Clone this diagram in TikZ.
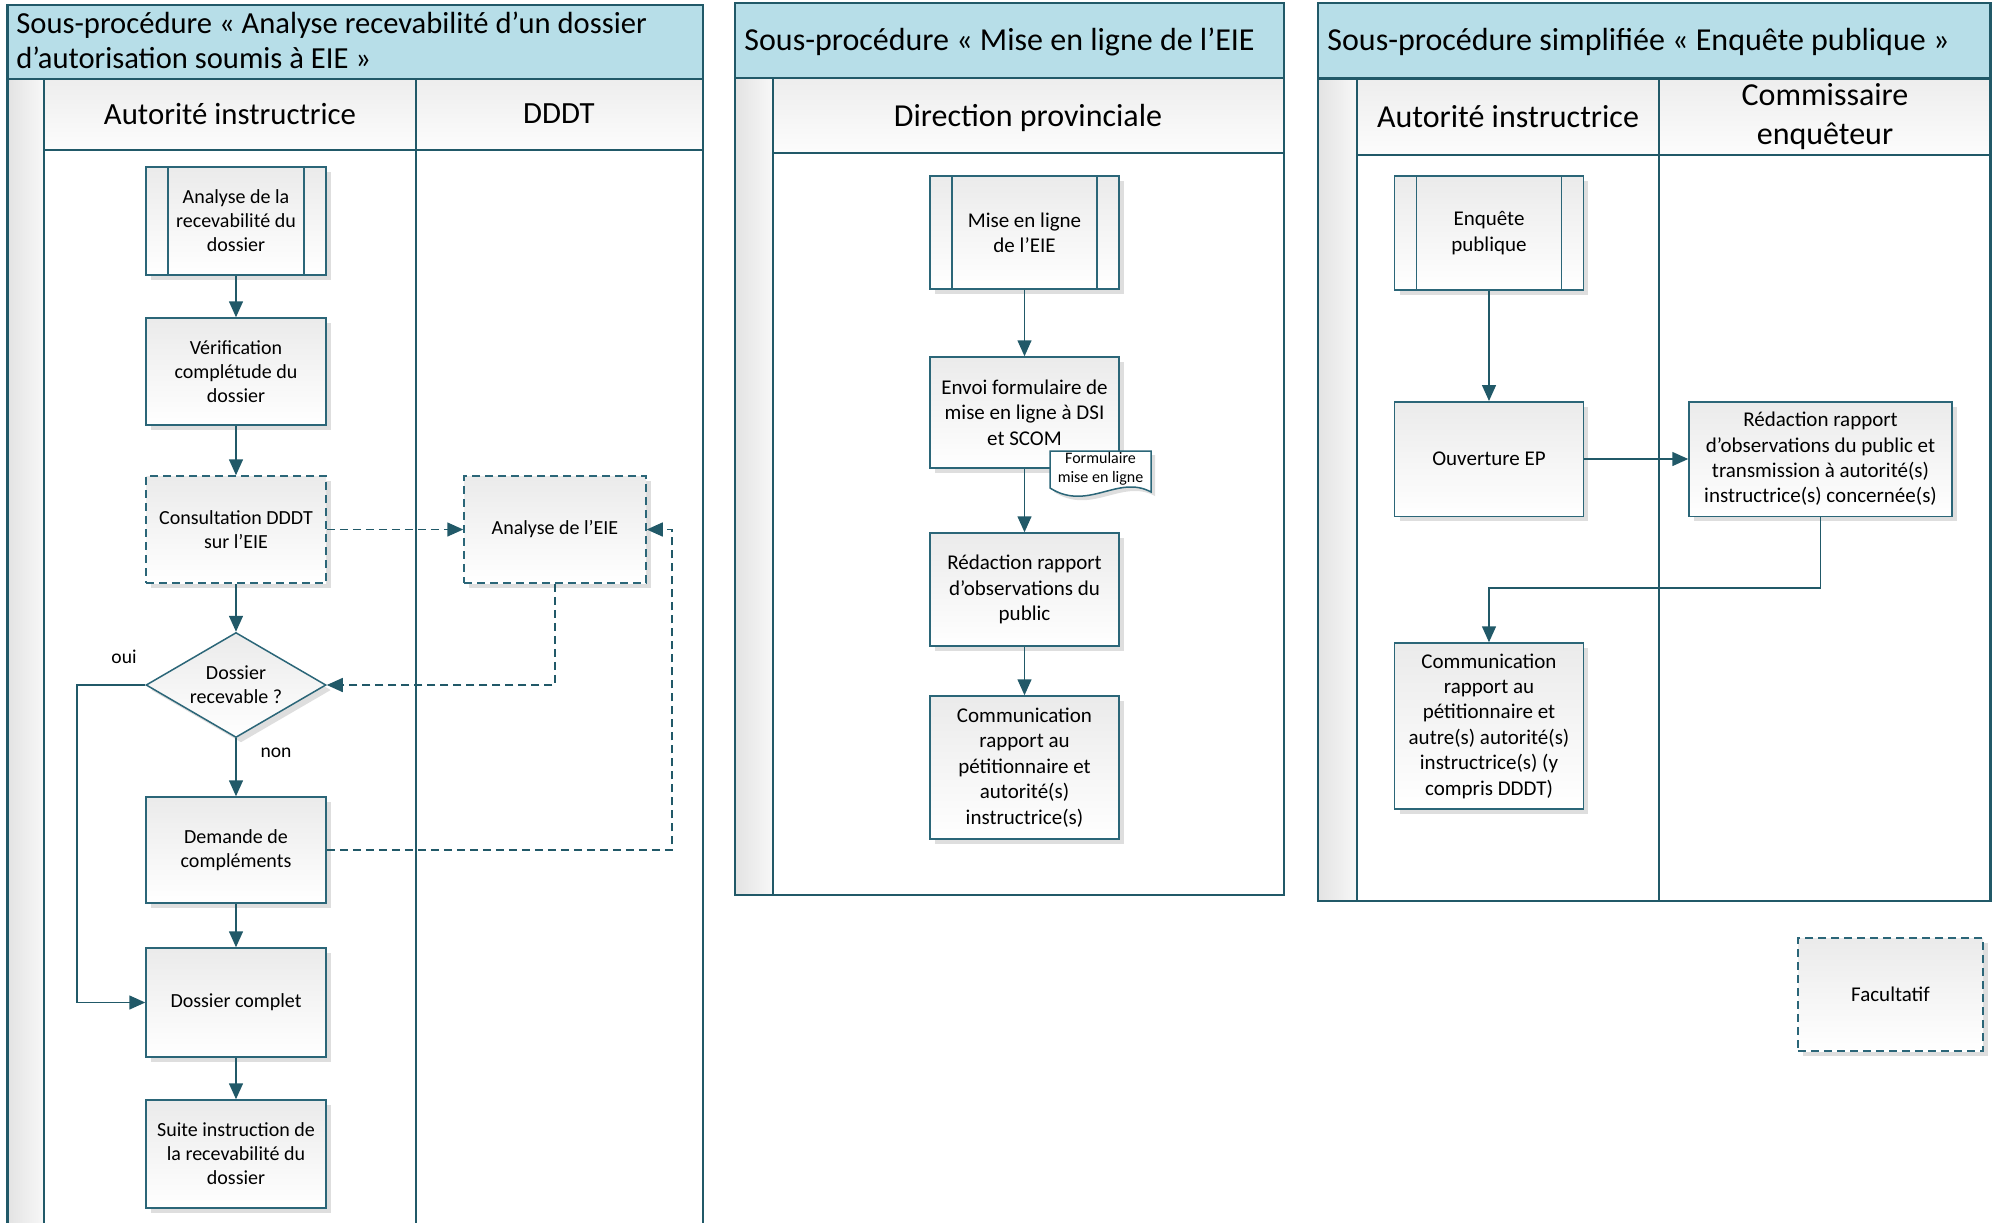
\documentclass[tikz,border=0pt]{standalone}
\usepackage{fontspec}
\setmainfont{Carlito}
\usetikzlibrary{arrows.meta,shapes.geometric,shadows}
\definecolor{tealdk}{HTML}{215968}
\definecolor{bord}{HTML}{2B6678}
\definecolor{titlebg}{HTML}{B7DEE8}
\begin{document}
\begin{tikzpicture}[x=0.5pt,y=-0.5pt,
  panel/.style={draw=tealdk, line width=1.3pt},
  lane/.style={draw=tealdk, line width=1pt},
  titletxt/.style={font=\fontsize{16pt}{17.5pt}\selectfont, anchor=west, align=left, inner sep=0pt},
  hdr/.style={font=\fontsize{16pt}{19.5pt}\selectfont, align=center, inner sep=0pt},
  box/.style={draw=bord, line width=0.75pt, top color=black!8, bottom color=white,
    drop shadow={shadow xshift=2.5pt, shadow yshift=-2.5pt, fill=black!13, opacity=1},
    align=center, inner sep=2pt},
  lbox/.style={box, font=\fontsize{10pt}{12pt}\selectfont, minimum width=90pt},
  mbox/.style={box, font=\fontsize{10.5pt}{12.7pt}\selectfont, minimum width=94.3pt},
  opt/.style={dash pattern=on 4pt off 2.5pt},
  sub/.style={path picture={
      \draw[bord, line width=0.75pt] ([xshift=11pt]path picture bounding box.north west) -- ([xshift=11pt]path picture bounding box.south west);
      \draw[bord, line width=0.75pt] ([xshift=-11pt]path picture bounding box.north east) -- ([xshift=-11pt]path picture bounding box.south east);}},
  arr/.style={draw=tealdk, line width=0.75pt, -{Triangle[length=8pt,width=7pt]}},
  lbl/.style={font=\fontsize{9.8pt}{12pt}\selectfont, inner sep=0pt}
]
\useasboundingbox (0,0) rectangle (1993,1222);

% ---------- Left panel ----------
\fill[titlebg] (7.6,5) rectangle (703,79);
\shade[left color=black!11, right color=black!3] (7.6,79) rectangle (44,1230);
\shade[top color=black!7, bottom color=black!1] (44,79) rectangle (703,150);
\draw[panel] (7.6,1230) -- (7.6,5) -- (703,5) -- (703,1230);
\draw[panel] (7.6,79) -- (703,79);
\draw[lane] (44,79) -- (44,1230);
\draw[lane] (44,150) -- (703,150);
\draw[lane] (415.6,79) -- (415.6,1230);
\node[titletxt, font=\fontsize{15.3pt}{17.5pt}\selectfont] (t1) at (16,40.5) {Sous-procédure « Analyse recevabilité d’un dossier\\d’autorisation soumis à EIE »};
\node[hdr, font=\fontsize{15.4pt}{19pt}\selectfont] (h1) at (230,114) {Autorité instructrice};
\node[hdr, font=\fontsize{15.4pt}{19pt}\selectfont] (h2) at (559,114) {DDDT};

% ---------- Middle panel ----------
\fill[titlebg] (735,3) rectangle (1284,78);
\shade[left color=black!11, right color=black!3] (735,78) rectangle (772.5,895);
\shade[top color=black!7, bottom color=black!1] (772.5,78) rectangle (1284,153);
\draw[panel] (735,3) rectangle (1284,895);
\draw[panel] (735,78) -- (1284,78);
\draw[lane] (772.5,78) -- (772.5,895);
\draw[lane] (772.5,153) -- (1284,153);
\node[titletxt] (t2) at (744,42) {Sous-procédure « Mise en ligne de l’EIE};
\node[hdr] (h3) at (1028,117.5) {Direction provinciale};

% ---------- Right panel ----------
\fill[titlebg] (1318,3) rectangle (1990.5,78.5);
\shade[left color=black!11, right color=black!3] (1318,78.5) rectangle (1357,901);
\shade[top color=black!7, bottom color=black!1] (1357,78.5) rectangle (1990.5,155);
\draw[panel] (1318,3) rectangle (1990.5,901);
\draw[panel] (1318,78.5) -- (1990.5,78.5);
\draw[lane] (1357,78.5) -- (1357,901);
\draw[lane] (1357,155) -- (1990.5,155);
\draw[lane] (1659,78.5) -- (1659,901);
\node[titletxt] (t3) at (1327,42) {Sous-procédure simplifiée « Enquête publique »};
\node[hdr] (h4) at (1508,116.5) {Autorité instructrice};
\node[hdr] (h5) at (1825,117) {Commissaire\\enquêteur};

% ---------- Left nodes ----------
\node[lbox, sub, minimum height=54pt] (a1) at (236,221) {Analyse de la\\recevabilité du\\dossier};
\node[lbox, minimum height=53.5pt] (a2) at (236,371.5) {Vérification\\complétude du\\dossier};
\node[lbox, opt, minimum height=53.5pt] (a3) at (236,529.5) {Consultation DDDT\\sur l’EIE};
\node[lbox, opt, minimum width=91pt, minimum height=53.5pt] (d1) at (555,529.5) {Analyse de l’EIE};
\node[diamond, draw=bord, line width=0.75pt, top color=black!8, bottom color=white,
  drop shadow={shadow xshift=2.5pt, shadow yshift=-2.5pt, fill=black!13, opacity=1},
  aspect=1.714, minimum width=90pt, minimum height=52.5pt, inner sep=0pt, align=center,
  font=\fontsize{10pt}{12pt}\selectfont] (dia) at (236,685) {Dossier\\recevable ?};
\node[lbox, minimum height=53pt] (a4) at (236,850) {Demande de\\compléments};
\node[lbox, minimum height=54.5pt] (a5) at (236,1002.5) {Dossier complet};
\node[lbox, minimum height=54pt] (a6) at (236,1154) {Suite instruction de\\la recevabilité du\\dossier};
\node[lbl] (oui) at (124,657) {oui};
\node[lbl] (non) at (276,753) {non};

\draw[arr] (a1) -- (a2);
\draw[arr] (a2) -- (a3);
\draw[arr] (a3) -- (dia);
\draw[arr] (dia) -- (a4);
\draw[arr] (a4) -- (a5);
\draw[arr] (a5) -- (a6);
\coordinate (lp) at (77,1002.5);
\draw[arr] (dia.west) -| (lp) -- (a5.west);
\draw[arr, opt] (a3.east) -- (d1.west);
\draw[arr, opt] (d1.south) |- (dia.east);
\coordinate (rx) at (672,700);
\draw[arr, opt] (a4.east) -| (rx) |- (d1.east);

% ---------- Middle nodes ----------
\node[mbox, sub, minimum height=56.5pt] (m1) at (1024.5,232.5) {Mise en ligne\\de l’EIE};
\node[mbox, minimum height=55.5pt] (m2) at (1024.5,412.5) {Envoi formulaire de\\mise en ligne à DSI\\et SCOM};
\node[mbox, minimum height=56.5pt] (m3) at (1024.5,589.5) {Rédaction rapport\\d’observations du\\public};
\node[mbox, minimum height=71.5pt] (m4) at (1024.5,767.5) {Communication\\rapport au\\pétitionnaire et\\autorité(s)\\instructrice(s)};
\path[draw=bord, line width=0.75pt, fill=white,
  drop shadow={shadow xshift=2pt, shadow yshift=-2pt, fill=black!13, opacity=1}]
  (1050,451) -- (1151,451) -- (1151,492) .. controls (1118,474) and (1088,512) .. (1050,488) -- cycle;
\node[font=\fontsize{8pt}{9.5pt}\selectfont, align=center, inner sep=0pt] (doc) at (1100.5,468.5) {Formulaire\\mise en ligne};
\draw[arr] (m1) -- (m2);
\draw[arr] (m2) -- (m3);
\draw[arr] (m3) -- (m4);

% ---------- Right nodes ----------
\node[mbox, sub, minimum height=57pt] (r1) at (1489,233) {Enquête\\publique};
\node[mbox, minimum height=57.25pt] (r2) at (1489,459) {Ouverture EP};
\node[mbox, minimum width=131.5pt, minimum height=57.25pt] (r3) at (1820.5,459) {Rédaction rapport\\d’observations du public et\\transmission à autorité(s)\\instructrice(s) concernée(s)};
\node[mbox, minimum height=83pt] (r4) at (1489,726) {Communication\\rapport au\\pétitionnaire et\\autre(s) autorité(s)\\instructrice(s) (y\\compris DDDT)};
\node[mbox, opt, minimum width=92.5pt, minimum height=56.5pt] (fac) at (1890.5,994.5) {Facultatif};
\draw[arr] (r1) -- (r2);
\draw[arr] (r2) -- (r3);
\coordinate (rt) at (1650,588);
\draw[arr] (r3.south) |- (rt) -| (r4.north);
\end{tikzpicture}
\end{document}
